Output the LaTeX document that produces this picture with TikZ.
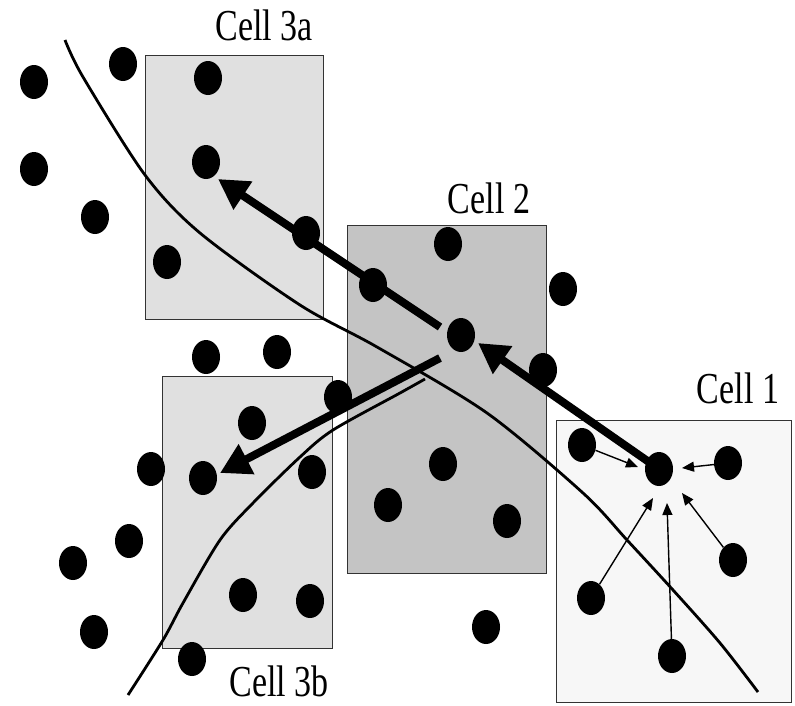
\documentclass[tikz,border=0pt]{standalone}
\usepackage{fontspec}
\setmainfont{Liberation Serif}
\usetikzlibrary{shapes.geometric,arrows.meta,calc}
\definecolor{cellthree}{gray}{0.88}
\definecolor{celltwo}{gray}{0.77}
\definecolor{cellone}{gray}{0.97}
\begin{document}
\begin{tikzpicture}[x=1pt,y=-1pt,
 dot/.style={ellipse,fill=black,minimum width=28pt,minimum height=34pt,inner sep=0pt},
 cellbox/.style={draw=black!80,line width=1.2pt,inner sep=0pt,anchor=north west},
 curve/.style={line width=2.8pt},
 bigarrow/.style={line width=8pt,-{Triangle[length=30pt,width=32pt]}},
 smallarrow/.style={line width=1.4pt,-{Triangle[length=12pt,width=10pt]}},
 lbl/.style={anchor=base,inner sep=0pt,font=\fontsize{34}{40}\selectfont}
]
\useasboundingbox (0,0) rectangle (795,705);
% cells
\node[cellbox,fill=cellthree,minimum width=178pt,minimum height=264pt] (box3a) at (145,55) {};
\node[cellbox,fill=celltwo,minimum width=199pt,minimum height=348pt] (box2) at (347,225) {};
\node[cellbox,fill=cellthree,minimum width=170pt,minimum height=272pt] (box3b) at (162,376) {};
\node[cellbox,fill=cellone,minimum width=235pt,minimum height=282pt] (box1) at (556,420) {};
% labels
\node[lbl] (l3a) at (264,40) {\scalebox{1}[1.3]{Cell 3a}};
\node[lbl] (l2) at (489,213) {\scalebox{1}[1.3]{Cell 2}};
\node[lbl] (l1) at (738,403) {\scalebox{1}[1.3]{Cell 1}};
\node[lbl] (l3b) at (279,696) {\scalebox{1}[1.3]{Cell 3b}};
% curves
\draw[curve] plot[smooth] coordinates {(65,40) (83,77) (145,175) (200,233) (300,305) (377,347) (487,413) (583,493) (627,540) (673,590) (720,643) (758,692)};
\draw[curve] plot[smooth] coordinates {(128,695) (163,640) (183,603) (220,540) (253,503) (300,457) (333,430) (400,393) (425,379)};
% dots
\node[dot] (o1) at (34,82) {};
\node[dot] (o2) at (123,64) {};
\node[dot] (o3) at (34,169) {};
\node[dot] (o4) at (95,217) {};
\node[dot] (a1) at (208,78) {};
\node[dot] (a2) at (206,162) {};
\node[dot] (a3) at (167,262) {};
\node[dot] (a4) at (306,233) {};
\node[dot] (m1) at (373,285) {};
\node[dot] (m2) at (448,244) {};
\node[dot] (c2) at (461,335) {};
\node[dot] (m3) at (563,289) {};
\node[dot] (m4) at (543,370) {};
\node[dot] (m5) at (338,397) {};
\node[dot] (m6) at (443,464) {};
\node[dot] (m7) at (388,505) {};
\node[dot] (m8) at (507,521) {};
\node[dot] (m9) at (486,627) {};
\node[dot] (n1) at (206,357) {};
\node[dot] (n2) at (277,352) {};
\node[dot] (b1) at (252,423) {};
\node[dot] (b2) at (203,478) {};
\node[dot] (b3) at (312,472) {};
\node[dot] (b4) at (243,595) {};
\node[dot] (b5) at (310,601) {};
\node[dot] (q1) at (151,469) {};
\node[dot] (q2) at (129,541) {};
\node[dot] (q3) at (73,563) {};
\node[dot] (q4) at (94,632) {};
\node[dot] (q5) at (192,659) {};
\node[dot] (p1) at (582,445) {};
\node[dot] (c1) at (659,469) {};
\node[dot] (p2) at (728,463) {};
\node[dot] (p3) at (733,560) {};
\node[dot] (p4) at (591,598) {};
\node[dot] (p5) at (672,656) {};
% thick arrows
\draw[bigarrow] (c1.center) -- ($(c2)+(17,8)$);
\draw[bigarrow] ($(c2)+(-21,-8)$) -- ($(a2)+(12,17)$);
\draw[bigarrow] ($(c2)+(-21,23)$) -- ($(b2)+(17,-5)$);
% thin arrows
\draw[smallarrow] (p1) -- ($(c1)+(-21,-2)$);
\draw[smallarrow] (p2) -- ($(c1)+(23,-1)$);
\draw[smallarrow] (p3) -- ($(c1)+(23,24)$);
\draw[smallarrow] (p4) -- ($(c1)+(-6,29)$);
\draw[smallarrow] (p5) -- ($(c1)+(8,34)$);
\end{tikzpicture}
\end{document}
